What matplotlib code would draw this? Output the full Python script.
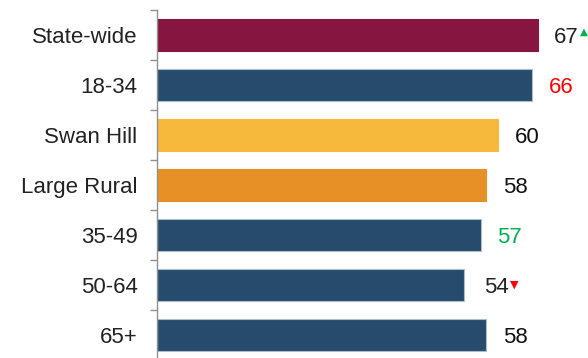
import matplotlib
matplotlib.use("Agg")
import matplotlib.pyplot as plt
from matplotlib.ticker import FixedLocator

categories = ["State-wide", "18-34", "Swan Hill", "Large Rural", "35-49", "50-64", "65+"]
values = [67, 66, 60, 58, 57, 54, 58]
bar_colors = ["#86163F", "#264B6C", "#F6B93B", "#E69026", "#264B6C", "#264B6C", "#264B6C"]
label_colors = ["#222222", "#FF0000", "#111111", "#111111", "#00B050", "#222222", "#111111"]
arrows = ["up", None, None, None, None, "down", None]

plt.rcParams['font.family'] = ['Liberation Sans', 'DejaVu Sans']

fig = plt.figure(figsize=(5.88, 3.58), dpi=100)
ax = fig.add_axes([157/588, -2/358, 431/588, 350/358])

y = list(range(len(categories)))
for i, (v, c) in enumerate(zip(values, bar_colors)):
    edge = "#AEBBC8" if c == "#264B6C" else c
    ax.barh(i, v, height=0.64, color=c, edgecolor=edge, linewidth=0.8)

ax.set_xlim(0, 431/5.68)
ax.set_ylim(len(categories) - 0.5, -0.5)

for i, v in enumerate(values):
    dx = 15 if arrows[i] == "down" else 12
    ax.annotate(str(v), xy=(v, i), xytext=(dx, -1.5), textcoords="offset points",
                ha="left", va="center", fontsize=16, color=label_colors[i])
    if arrows[i] == "up":
        ax.annotate("▲", xy=(v, i), xytext=(dx + 18.3, 2.5), textcoords="offset points",
                    ha="left", va="center", fontsize=7.5, color="#00B050",
                    family=['DejaVu Sans'], annotation_clip=False)
    elif arrows[i] == "down":
        ax.annotate("▼", xy=(v, i), xytext=(dx + 18.3, 0.5), textcoords="offset points",
                    ha="left", va="center", fontsize=8, color="#FF0000",
                    family=['DejaVu Sans'], annotation_clip=False)

ax.set_yticks(y)
ax.set_yticklabels(categories, fontsize=16, color="#222222")
ax.tick_params(axis="y", which="major", length=0, pad=14)
ax.yaxis.set_minor_locator(FixedLocator([i - 0.5 for i in range(len(categories) + 1)]))
ax.tick_params(axis="y", which="minor", length=5, width=1, color="#909090")

ax.set_xticks([])
for s in ["top", "right", "bottom"]:
    ax.spines[s].set_visible(False)
ax.spines["left"].set_color("#909090")
ax.spines["left"].set_linewidth(1)

fig.savefig("out.png", dpi=100)
